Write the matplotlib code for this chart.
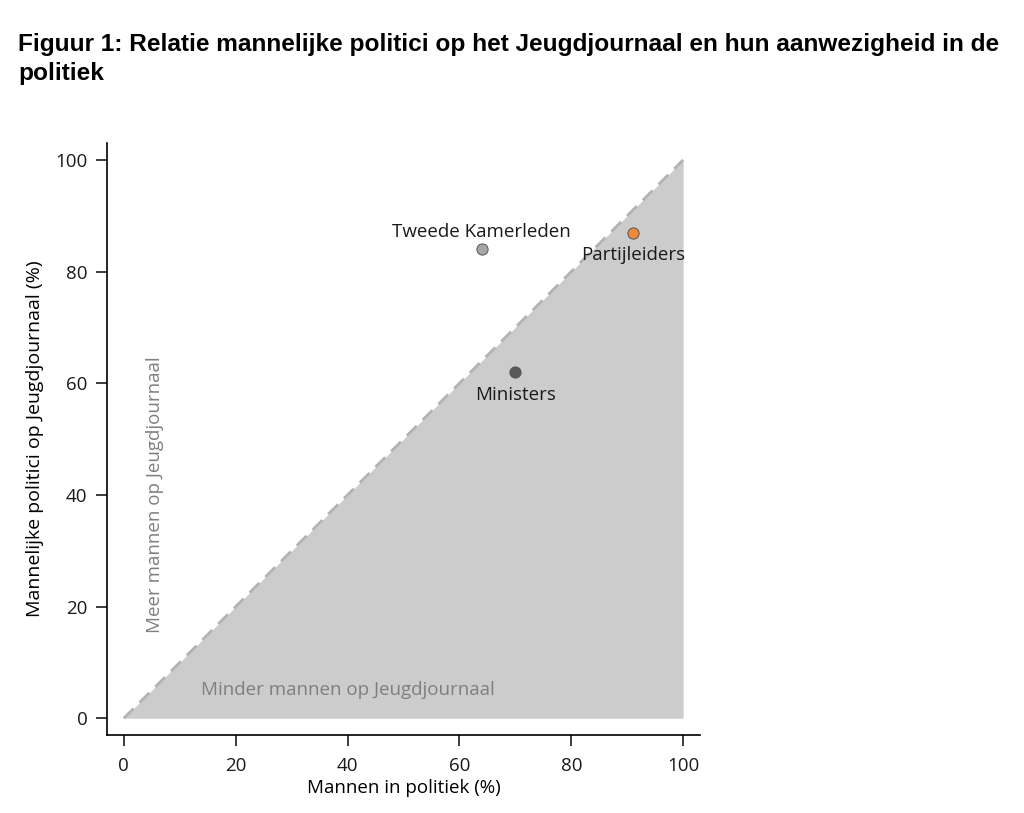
import matplotlib
matplotlib.use("Agg")
import matplotlib.pyplot as plt

# data
groups = ["Tweede Kamerleden", "Partijleiders", "Ministers"]
men_politics = [64, 91, 70]
men_jeugdjournaal = [84, 87, 62]
point_colors = ["#a6a6a6", "#ed8a3c", "#595959"]
label_pos = ["above", "below", "below"]

diag = [0, 100]
ticks = [0, 20, 40, 60, 80, 100]

plt.rcParams["font.family"] = ["Open Sans", "DejaVu Sans"]

fig = plt.figure(figsize=(10.24, 8.13), dpi=100)
ax = fig.add_axes([0.1045, 0.0959, 0.579, 0.728])

# shaded region below the diagonal
ax.fill_between(diag, [0, 0], diag, color="#cccccc", lw=0, zorder=1)
ax.plot(diag, diag, color="#b3b3b3", lw=2, ls=(0, (5, 3)), zorder=2)

for x, y, c, name, pos in zip(men_politics, men_jeugdjournaal, point_colors, groups, label_pos):
    ax.scatter(x, y, s=65, color=c, edgecolor="#555555", lw=0.7, zorder=3)
    if pos == "above":
        ax.annotate(name, (x, y), xytext=(0, 6), textcoords="offset points",
                    ha="center", va="bottom", fontsize=13.5, color="#1a1a1a")
    else:
        ax.annotate(name, (x, y), xytext=(0, -10), textcoords="offset points",
                    ha="center", va="top", fontsize=13.5, color="#1a1a1a")

ax.text(5.6, 40, "Meer mannen op Jeugdjournaal", rotation=90, ha="center", va="center",
        fontsize=13.5, color="#7f7f7f")
ax.text(40, 5, "Minder mannen op Jeugdjournaal", ha="center", va="center",
        fontsize=13.5, color="#7f7f7f")

ax.set_xlim(-3, 103)
ax.set_ylim(-3, 103)
ax.set_xticks(ticks)
ax.set_yticks(ticks)
ax.tick_params(direction="out", length=8, width=1.2, labelsize=13.5, colors="#1a1a1a")
ax.tick_params(axis="x", pad=8)
ax.tick_params(axis="y", pad=6)
ax.spines["top"].set_visible(False)
ax.spines["right"].set_visible(False)
ax.spines["left"].set_linewidth(1.2)
ax.spines["bottom"].set_linewidth(1.2)
ax.set_xlabel("Mannen in politiek (%)", fontsize=13.5, labelpad=3)
ax.set_ylabel("Mannelijke politici op Jeugdjournaal (%)", fontsize=14, labelpad=8)

fig.text(0.018, 0.9274, "Figuur 1: Relatie mannelijke politici op het Jeugdjournaal en hun aanwezigheid in de\npolitiek",
         ha="left", va="center", fontsize=17.6, fontweight="bold", linespacing=1.38,
         family=["Liberation Sans", "DejaVu Sans"])

fig.savefig("out.png", dpi=100)
